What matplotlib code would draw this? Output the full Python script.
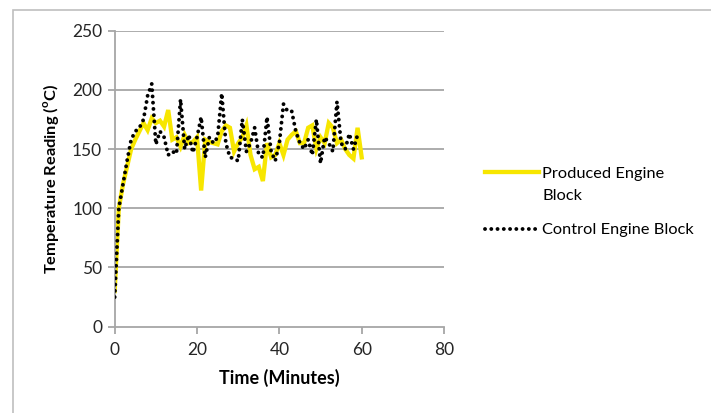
import matplotlib
matplotlib.use("Agg")
import matplotlib.pyplot as plt
from matplotlib.patches import Rectangle

plt.rcParams["font.family"] = ["Lato", "DejaVu Sans"]
plt.rcParams["mathtext.fontset"] = "custom"
plt.rcParams["mathtext.bf"] = "Lato:bold"
plt.rcParams["mathtext.rm"] = "Lato"

# 数据（从图中读取，每分钟一个读数）
minutes = list(range(0, 61))
produced = [30, 100, 120, 135, 150, 158, 165, 172, 166, 176, 172, 174, 169, 183, 158,
            160, 152, 162, 155, 156, 160, 115, 158, 156, 155, 154, 165, 170, 168, 148,
            155, 160, 170, 145, 133, 135, 123, 155, 143, 145, 155, 145, 158, 162, 165,
            155, 155, 168, 170, 150, 160, 155, 172, 168, 155, 158, 150, 145, 142, 168,
            143]
control_minutes = list(range(0, 60))
control = [25, 100, 120, 140, 158, 165, 168, 175, 195, 205, 154, 165, 160, 145, 148,
           146, 192, 150, 162, 147, 160, 177, 143, 160, 155, 160, 197, 155, 143, 142,
           140, 175, 148, 155, 168, 145, 143, 177, 148, 140, 155, 188, 182, 182, 165,
           155, 150, 158, 145, 175, 138, 160, 155, 148, 190, 155, 150, 163, 150, 162]

x_ticks = [0, 20, 40, 60, 80]
y_ticks = [0, 50, 100, 150, 200, 250]

fig = plt.figure(figsize=(7.11, 4.13), dpi=100)
ax = fig.add_axes([0.1613, 0.209, 0.4632, 0.7167])

grid_color = "#A6A6A6"
for yv in y_ticks[1:]:
    ax.axhline(yv, color=grid_color, linewidth=1.3, zorder=0)

ax.plot(minutes, produced, color="#F7E600", linewidth=3.1, solid_joinstyle="miter",
        label="Produced Engine\nBlock", zorder=2)
ax.plot(control_minutes, control, color="black", linewidth=2.8,
        linestyle=(0, (0.01, 1.6)), dash_capstyle="round",
        label="Control Engine Block", zorder=3)

ax.set_xlim(0, 80)
ax.set_ylim(0, 250)
ax.set_xticks(x_ticks)
ax.set_yticks(y_ticks)
for side in ["top", "right"]:
    ax.spines[side].set_visible(False)
for side in ["left", "bottom"]:
    ax.spines[side].set_color(grid_color)
    ax.spines[side].set_linewidth(1.3)
ax.tick_params(axis="both", direction="out", color=grid_color, width=1.3, length=5,
               labelsize=12.5, labelcolor="#262626")
ax.tick_params(axis="x", pad=6)
ax.tick_params(axis="y", pad=4)

ax.set_xlabel("Time (Minutes)", fontsize=13, fontweight="bold", labelpad=8)
ax.set_ylabel(r"Temperature Reading ($^{\mathbf{o}}$C)", fontsize=11.8,
              fontweight="bold", labelpad=8)

leg = fig.legend(loc="upper left", bbox_to_anchor=(0.661, 0.632), frameon=False,
                 fontsize=11.8, handlelength=3.3, handletextpad=0.2, labelspacing=1.25)
leg.get_texts()[0].set_linespacing(1.75)
# 图例线条与第一行文字对齐
for col in leg._legend_handle_box.get_children():
    for row in col.get_children():
        row.align = "top"

# 图表区外框
fig.patches.append(Rectangle((12.5 / 711, -0.1), 1.2, 1.1 - 10.5 / 413,
                             transform=fig.transFigure, fill=False,
                             edgecolor="#BFBFBF", linewidth=1.2))

fig.savefig("out.png", dpi=100)
